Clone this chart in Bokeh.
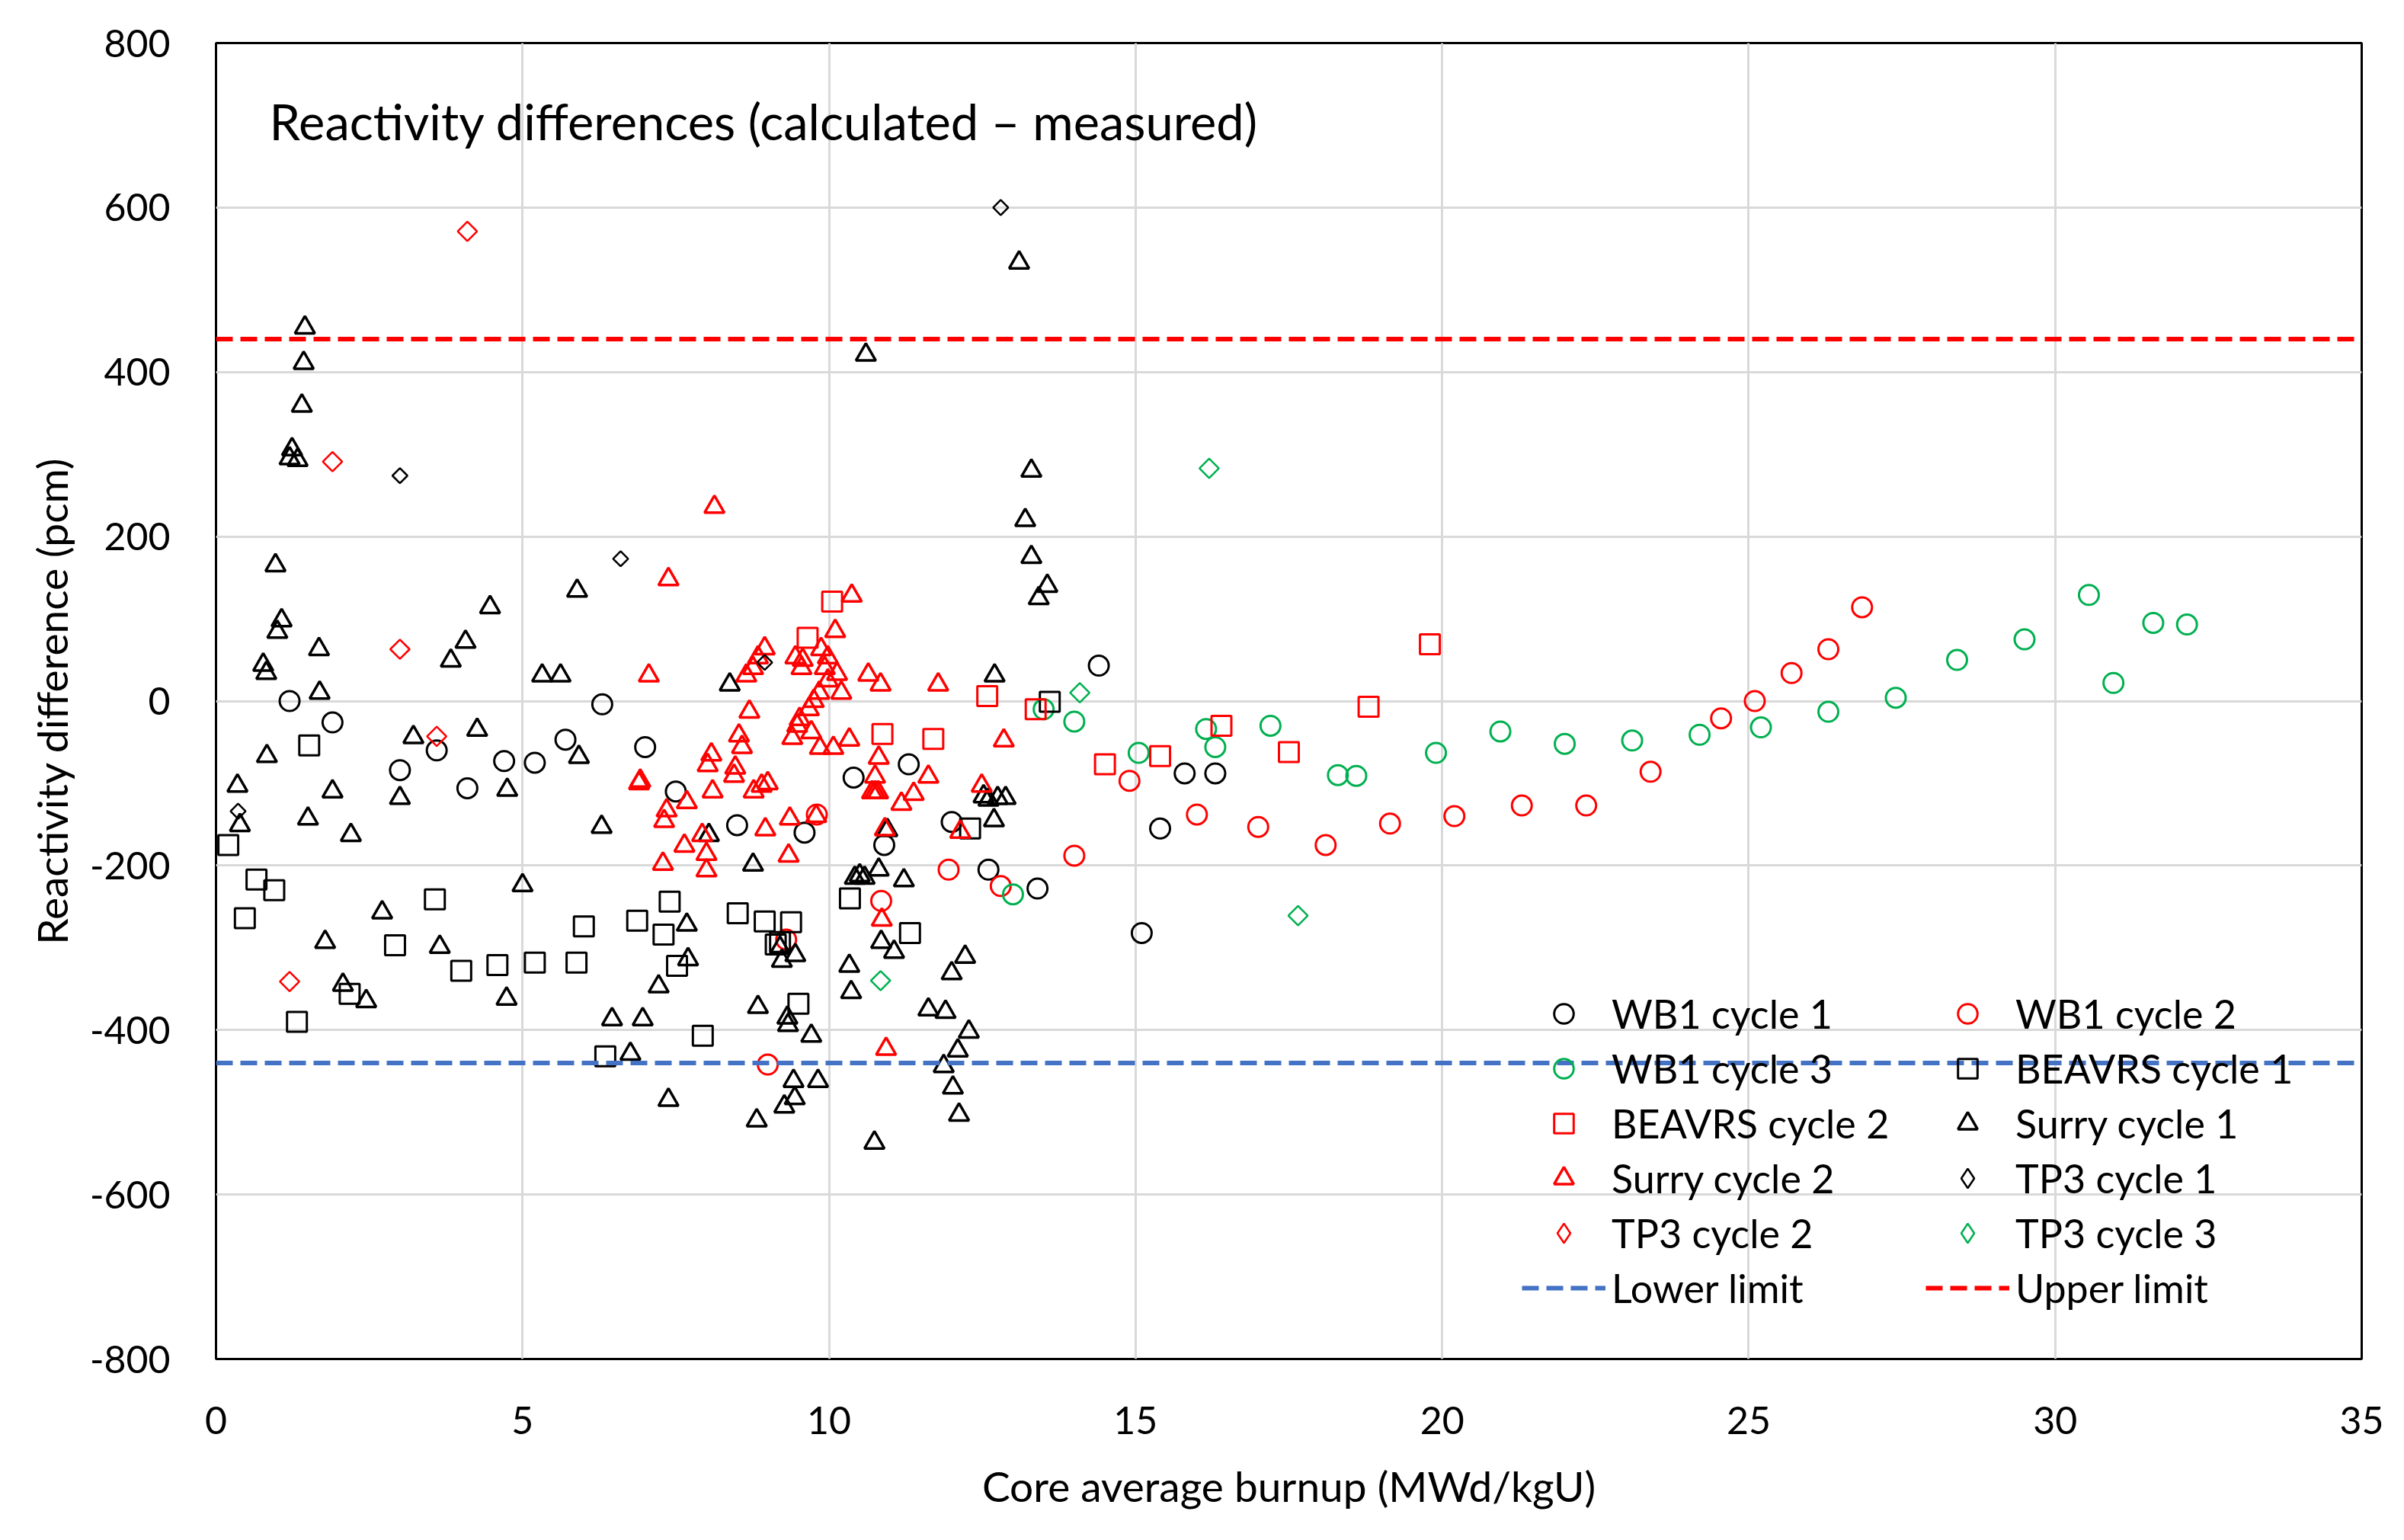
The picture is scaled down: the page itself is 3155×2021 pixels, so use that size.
import math

from bokeh.plotting import figure
from bokeh.models import Range1d, Legend, LegendItem, Label, FixedTicker, PrintfTickFormatter
from bokeh.embed import file_html
from bokeh.resources import INLINE

FONT = "Lato"
RED = "#FF0000"
GREEN = "#00B050"
BLUE = "#4472C4"

# --- data (burnup MWd/kgU, reactivity diff pcm) ---
wb1_c1_x = [1.2, 1.9, 3.0, 3.6, 4.1, 4.7, 5.2, 5.7, 6.3, 7.0, 7.5, 8.5, 9.6, 10.4,
            10.9, 11.3, 12.0, 12.6, 13.4, 14.4, 15.1, 15.4, 15.8, 16.3]
wb1_c1_y = [0, -26, -84, -60, -106, -73, -75, -47, -4, -56, -110, -151, -160, -93,
            -175, -77, -147, -205, -228, 43, -282, -155, -88, -88]

wb1_c2_x = [9.0, 9.3, 9.8, 10.85, 11.95, 12.8, 14.0, 14.9, 16.0, 17.0, 18.1, 19.15,
            20.2, 21.3, 22.35, 23.4, 24.55, 25.1, 25.7, 26.3, 26.85]
wb1_c2_y = [-442, -290, -138, -243, -205, -225, -188, -97, -138, -153, -175, -149,
            -140, -127, -127, -86, -21, 0, 34, 63, 114]

wb1_c3_x = [13.0, 13.5, 14.0, 15.05, 16.15, 16.3, 17.2, 18.3, 18.6, 19.9, 20.95, 22.0,
            23.1, 24.2, 25.2, 26.3, 27.4, 28.4, 29.5, 30.55, 30.95, 31.6, 32.15]
wb1_c3_y = [-235, -10, -25, -63, -34, -56, -30, -90, -91, -63, -37, -52,
            -48, -41, -32, -13, 4, 50, 75, 129, 22, 95, 93]

beavrs_c1_x = [0.2, 0.47, 0.66, 0.95, 1.32, 1.52, 2.18, 2.92, 3.57, 4.0, 4.59, 5.2,
               5.88, 6.0, 6.35, 6.87, 7.3, 7.4, 7.52, 7.94, 8.51, 8.95, 9.13, 9.2,
               9.38, 9.5, 10.34, 11.32, 12.3, 13.6]
beavrs_c1_y = [-175, -264, -217, -230, -390, -54, -356, -297, -241, -328, -321, -318,
               -318, -274, -432, -267, -284, -244, -322, -407, -258, -268, -296, -293,
               -269, -368, -240, -282, -155, -1]

beavrs_c2_x = [9.65, 10.05, 10.87, 11.7, 12.58, 13.37, 14.5, 15.4, 16.4, 17.5, 18.8, 19.8]
beavrs_c2_y = [77, 121, -40, -46, 6, -10, -77, -67, -30, -62, -7, 69]

surry_c1_x = [0.35, 0.39, 0.77, 0.82, 0.83, 0.97, 1.0, 1.07, 1.2, 1.24, 1.33, 1.4,
              1.43, 1.45, 1.5, 1.68, 1.69, 1.78, 1.9, 2.07, 2.2, 2.45, 2.71, 3.0,
              3.22, 3.65, 3.83, 4.07, 4.26, 4.47, 4.74, 4.75, 5.0, 5.32, 5.62, 5.89,
              5.92, 6.29, 6.46, 6.76, 6.96, 7.22, 7.38, 7.68, 7.7, 8.04, 8.38, 8.76,
              8.82, 8.84, 9.2, 9.23, 9.27, 9.32, 9.33, 9.42, 9.44, 9.45, 9.71, 9.82,
              10.33, 10.36, 10.42, 10.5, 10.58, 10.6, 10.74, 10.81, 10.85, 10.95, 11.06, 11.22,
              11.62, 11.87, 11.9, 12.0, 12.02, 12.1, 12.12, 12.22, 12.28, 12.52, 12.6, 12.69,
              12.75, 12.88, 12.7, 13.1, 13.2, 13.3, 13.3, 13.42, 13.56]
surry_c1_y = [-103, -151, 44, 34, -67, 165, 84, 98, 295, 306, 293, 359,
              411, 454, -143, 63, 10, -293, -110, -345, -163, -365, -257, -118,
              -44, -299, 49, 72, -35, 114, -362, -108, -224, 31, 31, 134,
              -68, -153, -387, -429, -387, -347, -485, -272, -314, -163, 20, -199,
              -510, -372, -300, -316, -493, -385, -394, -462, -483, -309, -407, -462,
              -322, -354, -215, -212, -215, 421, -537, -205, -293, -157, -305, -218,
              -375, -444, -378, -331, -470, -425, -503, -311, -402, -116, -120, -145,
              -118, -118, 31, 533, 220, 175, 280, 125, 140]

surry_c2_x = [6.9, 6.92, 7.06, 7.29, 7.31, 7.35, 7.38, 7.64, 7.68, 7.93, 8.0, 8.0,
              8.02, 8.08, 8.1, 8.13, 8.45, 8.47, 8.53, 8.58, 8.65, 8.7, 8.76, 8.77,
              8.84, 8.9, 8.95, 8.96, 9.0, 9.34, 9.36, 9.4, 9.45, 9.48, 9.52, 9.55,
              9.57, 9.67, 9.71, 9.75, 9.79, 9.84, 9.85, 9.87, 9.93, 9.98, 9.98, 10.07,
              10.1, 10.13, 10.2, 10.33, 10.37, 10.64, 10.75, 10.75, 10.7, 10.8, 10.81, 10.84,
              10.86, 10.91, 10.93, 11.18, 11.38, 11.62, 11.78, 12.14, 12.49, 12.85]
surry_c2_y = [-100, -97, 31, -198, -146, -133, 148, -176, -123, -163, -186, -206,
              -78, -65, -110, 236, -91, -81, -42, -56, 31, -13, 40, -110,
              53, -103, 64, -156, -100, -188, -143, -45, 53, -30, -22, 40,
              50, -10, -38, 0, -140, 10, -57, 63, 40, 53, 25, -57,
              85, 33, 10, -47, 128, 32, -92, -111, -111, -111, -69, 20,
              -266, -156, -423, -125, -113, -92, 20, -159, -103, -48]

tp3_c1_x = [0.36, 3.0, 6.6, 8.95, 12.8]
tp3_c1_y = [-134, 274, 173, 47, 600]

tp3_c2_x = [1.2, 1.9, 3.0, 3.6, 4.1]
tp3_c2_y = [-341, 291, 63, -43, 571]

tp3_c3_x = [10.84, 14.09, 16.2, 17.65]
tp3_c3_y = [-340, 10, 283, -261]

burnup_extent = [0, 35]
lower_limit = -440
upper_limit = 440

x_ticks = [0, 5, 10, 15, 20, 25, 30, 35]
y_ticks = [-800, -600, -400, -200, 0, 200, 400, 600, 800]

p = figure(
    width=3135,
    height=2000,
    output_backend="svg",
    toolbar_location=None,
    x_range=Range1d(burnup_extent[0], burnup_extent[1]),
    y_range=Range1d(y_ticks[0], y_ticks[-1]),
    min_border_left=283,
    min_border_right=36,
    min_border_top=56,
    min_border_bottom=217,
)
p.background_fill_color = "white"
p.border_fill_color = "white"
p.outline_line_color = "black"
p.outline_line_width = 3

p.xaxis.ticker = FixedTicker(ticks=x_ticks)
p.yaxis.ticker = FixedTicker(ticks=y_ticks)
p.yaxis.formatter = PrintfTickFormatter(format="%d")
for ax in (p.xaxis, p.yaxis):
    ax.axis_line_color = None
    ax.major_tick_line_color = None
    ax.minor_tick_line_color = None
    ax.major_label_text_font = FONT
    ax.major_label_text_font_size = "50px"
    ax.major_label_text_color = "black"
    ax.axis_label_text_font = FONT
    ax.axis_label_text_font_size = "55px"
    ax.axis_label_text_font_style = "normal"
    ax.axis_label_text_color = "black"
p.xaxis.axis_label = "Core average burnup (MWd/kgU)"
p.yaxis.axis_label = "Reactivity difference (pcm)"
p.xaxis.major_label_standoff = 56
p.xaxis.axis_label_standoff = 32
p.yaxis.major_label_standoff = 54
p.yaxis.axis_label_standoff = 14

p.xgrid.grid_line_color = "#D9D9D9"
p.ygrid.grid_line_color = "#D9D9D9"
p.xgrid.grid_line_width = 3
p.ygrid.grid_line_width = 3

SZ = 26
LW = 3
r_wb1c1 = p.scatter(wb1_c1_x, wb1_c1_y, marker="circle", size=SZ, fill_color=None,
                    line_color="black", line_width=LW)
r_wb1c2 = p.scatter(wb1_c2_x, wb1_c2_y, marker="circle", size=SZ, fill_color=None,
                    line_color=RED, line_width=LW)
r_wb1c3 = p.scatter(wb1_c3_x, wb1_c3_y, marker="circle", size=SZ, fill_color=None,
                    line_color=GREEN, line_width=LW)
r_bc1 = p.scatter(beavrs_c1_x, beavrs_c1_y, marker="square", size=SZ, fill_color=None,
                  line_color="black", line_width=LW)
r_bc2 = p.scatter(beavrs_c2_x, beavrs_c2_y, marker="square", size=SZ, fill_color=None,
                  line_color=RED, line_width=LW)
r_sc1 = p.scatter(surry_c1_x, surry_c1_y, marker="triangle", size=SZ, fill_color=None,
                  line_color="black", line_width=3.5)
r_sc2 = p.scatter(surry_c2_x, surry_c2_y, marker="triangle", size=SZ, fill_color=None,
                  line_color=RED, line_width=3.5)
# diamonds: squares turned by 45 degrees
p.scatter(tp3_c1_x, tp3_c1_y, marker="square", angle=math.pi / 4, size=14,
          fill_color=None, line_color="black", line_width=2.5)
p.scatter(tp3_c2_x, tp3_c2_y, marker="square", angle=math.pi / 4, size=18,
          fill_color=None, line_color=RED, line_width=2.5)
p.scatter(tp3_c3_x, tp3_c3_y, marker="square", angle=math.pi / 4, size=18,
          fill_color=None, line_color=GREEN, line_width=2.5)

# legend-only stand-ins (the legend ignores a marker's angle); NaN point is never drawn
nan = [float("nan")]
l_tc1 = p.scatter(nan, nan, marker="diamond", size=18, fill_color=None,
                  line_color="black", line_width=2.5)
l_tc2 = p.scatter(nan, nan, marker="diamond", size=24, fill_color=None,
                  line_color=RED, line_width=2.5)
l_tc3 = p.scatter(nan, nan, marker="diamond", size=24, fill_color=None,
                  line_color=GREEN, line_width=2.5)

r_low = p.line(burnup_extent, [lower_limit, lower_limit], line_color=BLUE,
               line_width=6, line_dash="22 10")
r_up = p.line(burnup_extent, [upper_limit, upper_limit], line_color=RED,
              line_width=6, line_dash="22 10")

p.add_layout(Label(x=0.87, y=705, text="Reactivity differences (calculated \u2013 measured)",
                   text_font=FONT, text_font_size="65px", text_baseline="middle",
                   text_color="black"))

left_items = [
    LegendItem(label="WB1 cycle 1", renderers=[r_wb1c1]),
    LegendItem(label="WB1 cycle 3", renderers=[r_wb1c3]),
    LegendItem(label="BEAVRS cycle 2", renderers=[r_bc2]),
    LegendItem(label="Surry cycle 2", renderers=[r_sc2]),
    LegendItem(label="TP3 cycle 2", renderers=[l_tc2]),
    LegendItem(label="Lower limit", renderers=[r_low]),
]
right_items = [
    LegendItem(label="WB1 cycle 2", renderers=[r_wb1c2]),
    LegendItem(label="BEAVRS cycle 1", renderers=[r_bc1]),
    LegendItem(label="Surry cycle 1", renderers=[r_sc1]),
    LegendItem(label="TP3 cycle 1", renderers=[l_tc1]),
    LegendItem(label="TP3 cycle 3", renderers=[l_tc3]),
    LegendItem(label="Upper limit", renderers=[r_up]),
]
for items, loc in ((left_items, (1714, 61)), (right_items, (2244, 61))):
    leg = Legend(items=items, location=loc)
    leg.padding = 0
    leg.margin = 0
    leg.spacing = 8
    leg.glyph_width = 110
    leg.glyph_height = 64
    leg.label_height = 64
    leg.label_standoff = 8
    leg.label_text_font = FONT
    leg.label_text_font_size = "52px"
    leg.label_text_color = "black"
    leg.border_line_alpha = 0
    leg.background_fill_alpha = 0
    p.add_layout(leg, "center")

open("out.html", "w").write(file_html(p, INLINE))
